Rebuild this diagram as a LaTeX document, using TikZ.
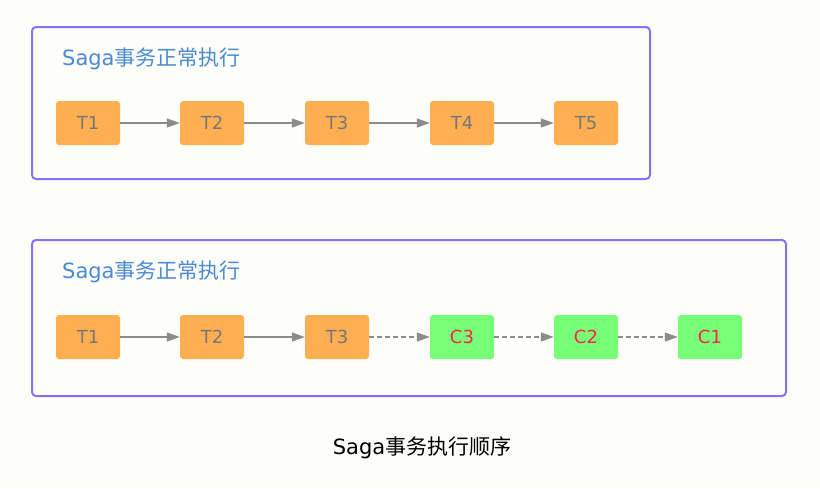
\documentclass[tikz,border=0pt]{standalone}
\usepackage{fontspec}
\setmainfont{DejaVu Sans}
\newfontfamily\hanzi{Noto Sans CJK SC}
\usetikzlibrary{arrows.meta}
\definecolor{bgc}{HTML}{FDFDF9}
\definecolor{framec}{HTML}{8C6FFF}
\definecolor{titlec}{HTML}{4A8AD4}
\definecolor{orangec}{HTML}{FFAF52}
\definecolor{greenc}{HTML}{77FF77}
\definecolor{redtext}{HTML}{FF2448}
\definecolor{graytext}{HTML}{777777}
\definecolor{arrowc}{HTML}{8C8C8C}
\tikzset{
  frame/.style={draw=framec, line width=2pt, rounded corners=4pt},
  title/.style={text=titlec, font=\fontsize{21}{23}\selectfont, anchor=west, inner sep=0pt},
  tbox/.style={fill=orangec, rounded corners=3pt, minimum width=64pt, minimum height=44pt,
    text=graytext, font=\fontsize{18}{20}\selectfont, inner sep=0pt},
  cbox/.style={fill=greenc, rounded corners=3pt, minimum width=64pt, minimum height=44pt,
    text=redtext, font=\fontsize{18}{20}\selectfont, inner sep=0pt},
  flow/.style={draw=arrowc, line width=1.3pt, -{Triangle[length=13pt,width=9pt]}},
  undo/.style={flow, dashed, dash pattern=on 5pt off 3pt}
}
\begin{document}
\begin{tikzpicture}[x=1pt, y=-1pt]
  \fill[bgc] (0,0) rectangle (820,488);
  \useasboundingbox (0,0) rectangle (820,488);

  % normal execution
  \draw[frame] (32,27) rectangle (650,179);
  \node[title] (t1title) at (62,59) {Saga{\hanzi 事务正常执行}};
  \node[tbox] (a1) at (88,123) {T1};
  \node[tbox] (a2) at (212,123) {T2};
  \node[tbox] (a3) at (337,123) {T3};
  \node[tbox] (a4) at (462,123) {T4};
  \node[tbox] (a5) at (586,123) {T5};
  \draw[flow] (a1) -- (a2);
  \draw[flow] (a2) -- (a3);
  \draw[flow] (a3) -- (a4);
  \draw[flow] (a4) -- (a5);

  % execution with compensation
  \draw[frame] (32,240) rectangle (786,396);
  \node[title] (t2title) at (62,272) {Saga{\hanzi 事务正常执行}};
  \node[tbox] (b1) at (88,337) {T1};
  \node[tbox] (b2) at (212,337) {T2};
  \node[tbox] (b3) at (337,337) {T3};
  \node[cbox] (c3) at (462,337) {C3};
  \node[cbox] (c2) at (586,337) {C2};
  \node[cbox] (c1) at (710,337) {C1};
  \draw[flow] (b1) -- (b2);
  \draw[flow] (b2) -- (b3);
  \draw[undo] (b3) -- (c3);
  \draw[undo] (c3) -- (c2);
  \draw[undo] (c2) -- (c1);

  \node[font=\fontsize{21}{23}\selectfont, text=black] (caption) at (422,448) {Saga{\hanzi 事务执行顺序}};
\end{tikzpicture}
\end{document}
